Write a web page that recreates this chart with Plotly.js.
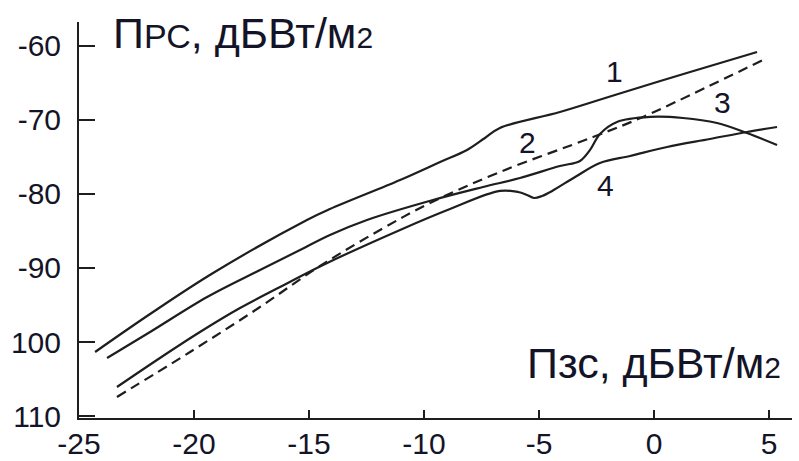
<!DOCTYPE html>
<html>
<head>
<meta charset="utf-8">
<script src="https://cdn.plot.ly/plotly-3.0.1.min.js"></script>
<style>html,body{margin:0;padding:0;background:#fff;}#chart{width:799px;height:461px;}</style>
</head>
<body>
<div id="chart"></div>
<script>
// Curve 1 (solid, top)
const curve1X = [-24.30, -21.91, -19.17, -15.09, -14.09, -11.04, -9.30, -8.13, -7.35, -6.70, -4.09, -1.70, 1.57, 4.48];
const curve1Y = [-101.35, -96.22, -90.68, -83.51, -82.03, -78.11, -75.68, -74.05, -72.43, -71.08, -68.92, -66.62, -63.51, -60.81];
// Curve 2 (dashed)
const curve2X = [-23.35, -20.17, -17.26, -14.52, -11.91, -9.74, -6.70, -2.65, -0.48, 4.74];
const curve2Y = [-107.43, -101.35, -95.54, -89.73, -84.86, -81.22, -77.03, -72.30, -69.59, -61.89];
// Curve 3 (solid, with rise near -2.5 and fall at the end)
const curve3X = [-23.78, -21.91, -19.43, -17.13, -15.39, -14.09, -12.48, -9.61, -7.43, -5.83, -4.09, -3.22, -2.78, -2.35, -1.61, -0.17, 1.26, 2.74, 4.04, 5.35];
const curve3Y = [-102.16, -98.65, -93.92, -90.27, -87.57, -85.54, -83.51, -80.81, -79.05, -77.84, -76.22, -75.54, -74.05, -71.89, -70.27, -69.59, -69.73, -70.41, -71.76, -73.38];
// Curve 4 (solid, with dip near -5)
const curve4X = [-23.35, -21.48, -19.74, -18.00, -16.26, -14.39, -11.04, -8.87, -6.70, -5.91, -5.52, -5.22, -4.87, -4.43, -3.43, -2.35, -1.04, 0.57, 2.43, 4.04, 5.35];
const curve4Y = [-106.08, -102.16, -98.65, -95.41, -92.57, -89.59, -84.86, -82.03, -79.59, -79.73, -80.14, -80.54, -80.27, -79.59, -77.70, -75.81, -74.86, -73.65, -72.57, -71.62, -70.95];

const xTickVals = [-25, -20, -15, -10, -5, 0, 5];
const xTickText = ['-25', '-20', '-15', '-10', '-5', '0', '5'];
const yTickVals = [-60, -70, -80, -90, -100, -110];
const yTickText = ['-60', '-70', '-80', '-90', '100', '110'];

const curveLabels = ['1', '2', '3', '4'];
const curveLabelX = [-1.70, -5.48, 2.96, -2.09];
const curveLabelY = [-63.5, -73.0, -67.7, -78.8];

const yTitle = 'П<span style="font-size:34px">РС</span>, дБВт/м<span style="font-size:30px">2</span>';
const xTitle = 'Пзс, дБВт/м<span style="font-size:30px">2</span>';

const FONT = 'Liberation Sans, Arial, sans-serif';
const INK = '#1e1e1e';
const TXT = '#141428';

const lineStyle = {color: INK, width: 2.2, shape: 'spline', smoothing: 1};

const traces = [
  {x: curve1X, y: curve1Y, mode: 'lines', line: lineStyle, hoverinfo: 'skip'},
  {x: curve2X, y: curve2Y, mode: 'lines', line: Object.assign({}, lineStyle, {dash: '10px,6px'}), hoverinfo: 'skip'},
  {x: curve3X, y: curve3Y, mode: 'lines', line: lineStyle, hoverinfo: 'skip'},
  {x: curve4X, y: curve4Y, mode: 'lines', line: lineStyle, hoverinfo: 'skip'}
];

const annotations = curveLabels.map((t, i) => ({
  x: curveLabelX[i], y: curveLabelY[i], xref: 'x', yref: 'y', text: t, showarrow: false,
  font: {family: FONT, size: 30, color: TXT}, xanchor: 'center', yanchor: 'middle'
}));
annotations.push({
  x: -23.6, y: -58.3, xref: 'x', yref: 'y', text: yTitle, showarrow: false,
  font: {family: FONT, size: 43, color: TXT}, xanchor: 'left', yanchor: 'middle'
});
annotations.push({
  x: -5.6, y: -102.9, xref: 'x', yref: 'y', text: xTitle, showarrow: false,
  font: {family: FONT, size: 43, color: TXT}, xanchor: 'left', yanchor: 'middle'
});

const layout = {
  width: 799, height: 461,
  margin: {l: 79, r: 7, t: 22, b: 43, pad: 0},
  paper_bgcolor: '#fff', plot_bgcolor: '#fff',
  showlegend: false,
  xaxis: {
    range: [-25, 6], tickvals: xTickVals, ticktext: xTickText,
    showgrid: false, zeroline: false, showline: true, linecolor: INK, linewidth: 2,
    ticks: 'inside', ticklen: 8, tickwidth: 2, tickcolor: INK,
    tickfont: {family: FONT, size: 30, color: TXT}, ticklabelstandoff: -2
  },
  yaxis: {
    range: [-110.27, -56.76], tickvals: yTickVals, ticktext: yTickText,
    showgrid: false, zeroline: false, showline: true, linecolor: INK, linewidth: 2,
    ticks: 'inside', ticklen: 16, tickwidth: 2, tickcolor: INK,
    tickfont: {family: FONT, size: 30, color: TXT}, ticklabelstandoff: 10
  },
  annotations: annotations
};

Plotly.newPlot('chart', traces, layout, {staticPlot: true, displayModeBar: false});
</script>
</body>
</html>
